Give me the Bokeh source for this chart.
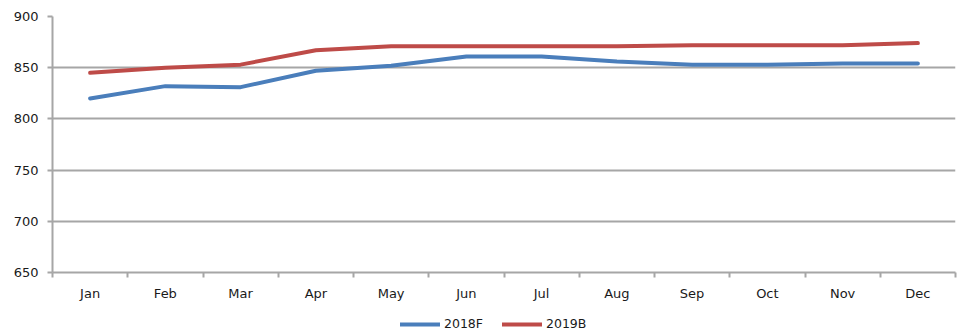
from bokeh.plotting import figure
from bokeh.layouts import column
from bokeh.models import FixedTicker, Legend, LegendItem, Range1d
from bokeh.embed import file_html
from bokeh.resources import INLINE

months = ["Jan", "Feb", "Mar", "Apr", "May", "Jun",
          "Jul", "Aug", "Sep", "Oct", "Nov", "Dec"]
series_2018f = [820, 832, 831, 847, 852, 861, 861, 856, 853, 853, 854, 854]
series_2019b = [845, 850, 853, 867, 871, 871, 871, 871, 872, 872, 872, 874]
y_ticks = [650, 700, 750, 800, 850, 900]
series_names = ["2018F", "2019B"]
series_colors = ["#4a7ebb", "#be4b48"]

FONT = "DejaVu Sans"
GRID = "#a6a6a6"
TEXT = "#1a1a1a"

# category centres sit at 0.5, 1.5, ... so boundary ticks fall on integers
xs = [i + 0.5 for i in range(len(months))]

p = figure(width=959, height=306, output_backend="svg",
           toolbar_location=None,
           x_range=Range1d(0, len(months)), y_range=Range1d(650, 900),
           min_border_left=52, min_border_right=4, min_border_top=16,
           min_border_bottom=34)
p.outline_line_color = None
p.background_fill_color = "white"
p.border_fill_color = "white"

# x axis: month names at centres, small tick marks at category boundaries
p.xaxis.ticker = FixedTicker(ticks=xs, minor_ticks=list(range(len(months) + 1)))
p.xaxis.major_label_overrides = {x: m for x, m in zip(xs, months)}
p.xaxis.major_tick_line_color = None
p.xaxis.minor_tick_in = 0
p.xaxis.minor_tick_out = 5
p.xaxis.minor_tick_line_color = GRID
p.xaxis.minor_tick_line_width = 2
p.xaxis.axis_line_color = GRID
p.xaxis.axis_line_width = 2
p.xaxis.major_label_text_font = FONT
p.xaxis.major_label_text_font_size = "13px"
p.xaxis.major_label_text_color = TEXT
p.xaxis.major_label_standoff = 7

# y axis
p.yaxis.ticker = FixedTicker(ticks=y_ticks)
p.yaxis.minor_tick_line_color = None
p.yaxis.major_tick_in = 0
p.yaxis.major_tick_out = 5
p.yaxis.major_tick_line_color = GRID
p.yaxis.major_tick_line_width = 2
p.yaxis.axis_line_color = GRID
p.yaxis.axis_line_width = 2
p.yaxis.major_label_text_font = FONT
p.yaxis.major_label_text_font_size = "13px"
p.yaxis.major_label_text_color = TEXT
p.yaxis.major_label_standoff = 9

p.xgrid.grid_line_color = None
p.ygrid.ticker = FixedTicker(ticks=y_ticks)
p.ygrid.grid_line_color = GRID
p.ygrid.grid_line_width = 2

series = [series_2018f, series_2019b]
for vals, color in zip(series, series_colors):
    p.line(xs, vals, line_color=color, line_width=4,
           line_join="round", line_cap="round")

# legend strip under the chart; its lines carry the same series but lie
# outside this strip's ranges, so only the legend swatches show
leg = figure(width=959, height=28, output_backend="svg", toolbar_location=None,
             x_range=Range1d(0, 1), y_range=Range1d(0, 1),
             min_border=0, x_axis_type=None, y_axis_type=None)
leg.outline_line_color = None
leg.grid.grid_line_color = None
items = []
for name, vals, color in zip(series_names, series, series_colors):
    r = leg.line(xs, vals, line_color=color, line_width=4, line_cap="round")
    items.append(LegendItem(label=name, renderers=[r]))

legend = Legend(items=items, orientation="horizontal", location=(348, 3),
                border_line_color=None, background_fill_alpha=0,
                glyph_width=40, glyph_height=12, spacing=19,
                label_standoff=4, padding=0, margin=0,
                label_text_font=FONT, label_text_font_size="12.5px",
                label_text_color=TEXT)
leg.add_layout(legend, "center")

layout = column(p, leg, spacing=0)
open("out.html", "w").write(file_html(layout, INLINE))
